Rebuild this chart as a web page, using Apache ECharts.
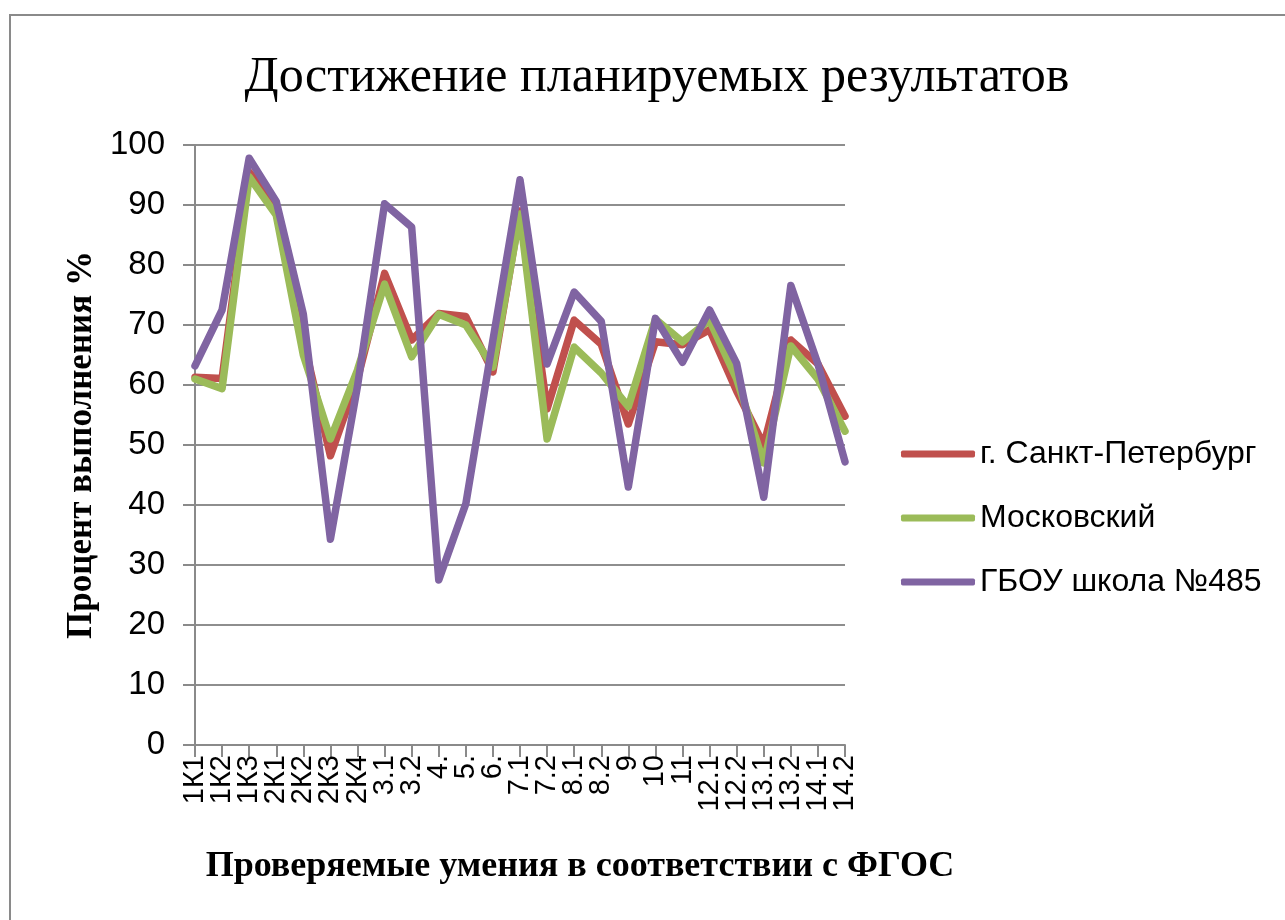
<!DOCTYPE html>
<html>
<head>
<meta charset="utf-8">
<script src="https://cdn.jsdelivr.net/npm/echarts@6/dist/echarts.min.js"></script>
<style>
  html, body { margin: 0; padding: 0; background: #fff; }
  #chart { width: 1285px; height: 920px; }
</style>
</head>
<body>
<div id="chart"></div>
<script>
const categories = ['1К1', '1К2', '1К3', '2К1', '2К2', '2К3', '2К4', '3.1', '3.2', '4.', '5.', '6.', '7.1', '7.2', '8.1', '8.2', '9', '10', '11', '12.1', '12.2', '13.1', '13.2', '14.1', '14.2']
const spbValues = [61.3, 61.1, 95.5, 89.8, 67.5, 48.2, 61, 78.6, 67.5, 71.9, 71.4, 62.2, 89, 56, 70.8, 66.8, 53.5, 67.2, 66.7, 69.2, 59, 50, 67.5, 63.5, 54.8]
const moskValues = [61, 59.4, 94.7, 88.3, 65, 51, 62.5, 76.8, 64.7, 71.8, 70, 63, 88.5, 51, 66.3, 62, 56.4, 71, 67.2, 70.8, 61, 47, 66.5, 61, 52.3]
const schoolValues = [63.2, 72.5, 97.8, 90.6, 71.8, 34.3, 59.8, 90.2, 86.3, 27.5, 40.2, 67.5, 94.2, 63.5, 75.5, 70.6, 43, 71.1, 63.8, 72.5, 63.6, 41.3, 76.6, 63.5, 47.2]
const seriesNames = ['г. Санкт-Петербург', 'Московский', 'ГБОУ школа №485']
const colors = ['#C0504D', '#9BBB59', '#8064A2']

const chart = echarts.init(document.getElementById('chart'))

function makeSeries(name, data, color) {
  return {
    name: name,
    type: 'line',
    data: data,
    symbol: 'none',
    color: color,
    lineStyle: { width: 7.5, color: color, cap: 'round', join: 'round' }
  }
}

const option = {
  animation: false,
  backgroundColor: '#fff',
  graphic: [
    {
      type: 'rect',
      shape: { x: 10, y: 15, width: 1400, height: 1000 },
      style: { fill: 'none', stroke: '#8a8a8a', lineWidth: 2 },
      silent: true
    }
  ],
  title: {
    text: 'Достижение планируемых результатов',
    left: 652,
    top: 48,
    textAlign: 'center',
    textStyle: {
      fontFamily: 'Liberation Serif',
      fontWeight: 'normal',
      fontSize: 50,
      color: '#000'
    }
  },
  legend: {
    orient: 'vertical',
    left: 896,
    top: 433,
    icon: 'roundRect',
    itemWidth: 74,
    itemHeight: 7,
    itemGap: 32,
    textStyle: { fontFamily: 'Liberation Sans', fontSize: 32, color: '#000' },
    data: seriesNames
  },
  grid: {
    left: 195,
    right: 440,
    top: 145,
    bottom: 175
  },
  xAxis: {
    type: 'category',
    data: categories,
    boundaryGap: false,
    name: 'Проверяемые умения в соответствии с ФГОС',
    nameLocation: 'middle',
    nameGap: 104,
    nameTextStyle: {
      fontFamily: 'Liberation Serif',
      fontWeight: 'bold',
      fontSize: 36,
      color: '#000',
      padding: [0, 0, 0, 120]
    },
    axisLine: { lineStyle: { color: '#8a8a8a', width: 2 } },
    axisTick: { show: true, length: 12, interval: 0, lineStyle: { color: '#8a8a8a', width: 2 } },
    axisLabel: {
      interval: 0,
      rotate: 90,
      margin: 10,
      fontFamily: 'Liberation Sans',
      fontSize: 29,
      color: '#000'
    }
  },
  yAxis: {
    type: 'value',
    min: 0,
    max: 100,
    interval: 10,
    name: 'Процент выполнения %',
    nameLocation: 'middle',
    nameGap: 96,
    nameTextStyle: {
      fontFamily: 'Liberation Serif',
      fontWeight: 'bold',
      fontSize: 35,
      color: '#000'
    },
    axisLine: { show: true, lineStyle: { color: '#8a8a8a', width: 2 } },
    axisTick: { show: true, length: 12, lineStyle: { color: '#8a8a8a', width: 2 } },
    axisLabel: {
      margin: 30,
      fontFamily: 'Liberation Sans',
      fontSize: 33,
      color: '#000'
    },
    splitLine: { lineStyle: { color: '#8e8e8e', width: 2 } }
  },
  series: [
    makeSeries(seriesNames[0], spbValues, colors[0]),
    makeSeries(seriesNames[1], moskValues, colors[1]),
    makeSeries(seriesNames[2], schoolValues, colors[2])
  ]
}

chart.setOption(option)
</script>
</body>
</html>
